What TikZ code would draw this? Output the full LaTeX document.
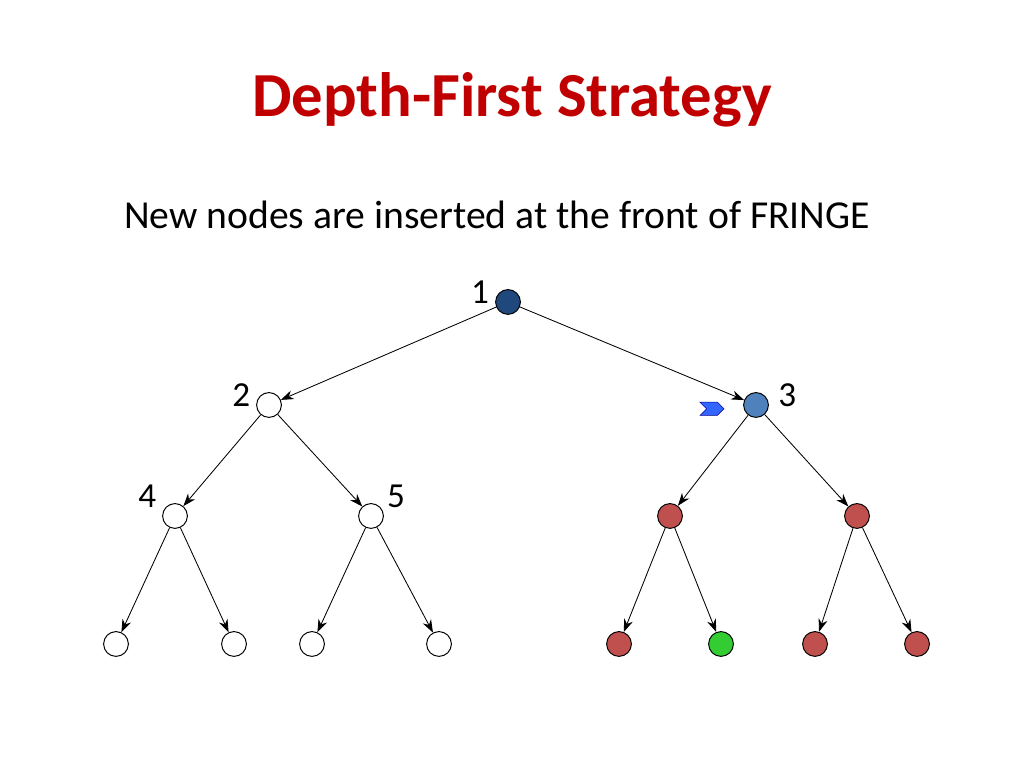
\documentclass[tikz,border=0pt]{standalone}
\usepackage{fontspec}
\setmainfont{Carlito}
\usetikzlibrary{arrows.meta,shapes.symbols}
\definecolor{titlered}{RGB}{192,0,0}
\definecolor{rootblue}{RGB}{31,73,125}
\definecolor{lightblue}{RGB}{79,129,189}
\definecolor{fringered}{RGB}{192,80,77}
\definecolor{goalgreen}{RGB}{51,204,51}
\tikzset{
  vertex/.style={circle,draw=black,line width=0.7pt,minimum size=0.62cm,inner sep=0pt,fill=white},
  num/.style={font=\fontsize{25}{25}\selectfont},
  edge/.style={-{Stealth[length=3.2mm,width=2.3mm]},line width=0.6pt}
}
\begin{document}
\begin{tikzpicture}
  \useasboundingbox (0,0) rectangle (25.6,19.2);
  \node[text=titlered,font=\bfseries\fontsize{44.6}{44.6}\selectfont] (title) at (12.8,16.7) {Depth-First Strategy};
  \node[font=\fontsize{28.2}{28.2}\selectfont] (sub) at (12.425,13.825) {New nodes are inserted at the front of FRINGE};
  \draw
    (12.7,11.65) node[vertex,fill=rootblue] (1){}
    (6.725,9.075) node[vertex] (2){}
    (18.9,9.075) node[vertex,fill=lightblue] (3){}
    (4.375,6.3) node[vertex] (4){}
    (9.275,6.3) node[vertex] (5){}
    (16.75,6.3) node[vertex,fill=fringered] (6){}
    (21.425,6.3) node[vertex,fill=fringered] (7){}
    (2.9,3.1) node[vertex] (8){}
    (5.85,3.1) node[vertex] (9){}
    (7.8,3.1) node[vertex] (10){}
    (10.975,3.1) node[vertex] (11){}
    (15.475,3.1) node[vertex,fill=fringered] (12){}
    (18.025,3.1) node[vertex,fill=goalgreen] (13){}
    (20.375,3.1) node[vertex,fill=fringered] (14){}
    (22.925,3.1) node[vertex,fill=fringered] (15){};
  \draw
    (12.0,11.9) node[num] (l1){1}
    (6.03,9.32) node[num] (l2){2}
    (19.68,9.32) node[num] (l3){3}
    (3.68,6.8) node[num] (l4){4}
    (9.9,6.8) node[num] (l5){5};
  % pointer
  \node[signal,signal to=east,signal from=west,fill=blue!75!cyan!80,draw=blue!60!black,
        line width=0.4pt,minimum width=0.6cm,minimum height=0.33cm,inner sep=0pt] (ptr) at (17.8,8.98) {};
  \begin{scope}[edge]
    \draw (1) to (2);
    \draw (1) to (3);
    \draw (2) to (4);
    \draw (2) to (5);
    \draw (3) to (6);
    \draw (3) to (7);
    \draw (4) to (8);
    \draw (4) to (9);
    \draw (5) to (10);
    \draw (5) to (11);
    \draw (6) to (12);
    \draw (6) to (13);
    \draw (7) to (14);
    \draw (7) to (15);
  \end{scope}
\end{tikzpicture}
\end{document}
